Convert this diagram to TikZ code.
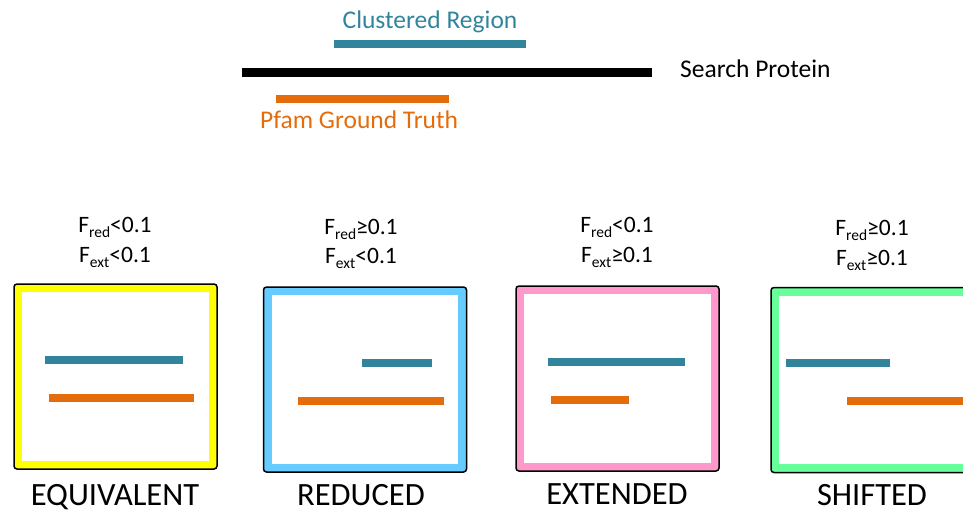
\documentclass[tikz,border=0pt]{standalone}
\usepackage{fontspec}
\setmainfont{Carlito}
\usetikzlibrary{calc}
\definecolor{tealc}{HTML}{31849B}
\definecolor{orngc}{HTML}{E46C0A}
\definecolor{byel}{HTML}{FFFF00}
\definecolor{bblue}{HTML}{66CCFF}
\definecolor{bpink}{HTML}{FF99CC}
\definecolor{bgreen}{HTML}{66FF99}
\newcommand{\lowsub}[1]{\raisebox{-0.45ex}{\fontsize{15.5}{16}\selectfont #1}}
\begin{document}
\begin{tikzpicture}[x=1pt,y=-1pt,
 frame/.style={draw=black, line width=1.5pt, rounded corners=3pt, minimum width=203pt, minimum height=185pt, inner sep=0pt},
 tbar/.style={tealc, line width=8pt},
 obar/.style={orngc, line width=8pt},
 kbar/.style={black, line width=9pt},
 toplab/.style={font=\fontsize{25.5}{30}\selectfont, anchor=base, inner sep=0pt},
 cond/.style={font=\fontsize{23.5}{28}\selectfont, anchor=base, inner sep=0pt},
 namelab/.style={font=\fontsize{32.5}{38}\selectfont, anchor=base, inner sep=0pt}]
\useasboundingbox (0,0) rectangle (963,513);
\clip (0,0) rectangle (963,513);
% top legend
\draw[tbar] (334,44) -- (526,44);
\draw[kbar] (242,73) -- (652,73);
\draw[obar] (276,99.5) -- (449,99.5);
\node[toplab, text=tealc] (lclu) at (430,29) {Clustered Region};
\node[toplab, anchor=base west] (lsp) at (680,78) {Search Protein};
\node[toplab, text=orngc] (lpf) at (359,129) {Pfam Ground Truth};
% boxes
\node[frame, fill=byel] (b1) at (115.5,376.5) {};
\node[frame, fill=bblue] (b2) at (365,379.5) {};
\node[frame, fill=bpink] (b3) at (617.5,378.5) {};
\node[frame, fill=bgreen] (b4) at (872.5,380) {};
\foreach \b in {b1,b2,b3,b4}{
  \fill[white] ($(\b.north west)+(9.2,9.2)$) rectangle ($(\b.south east)+(-9.2,-9.2)$);
}
% bars
\draw[tbar] (45,360) -- (183,360);
\draw[obar] (49,398) -- (194,398);
\draw[tbar] (362,363) -- (432,363);
\draw[obar] (298,401) -- (444,401);
\draw[tbar] (548,362) -- (685,362);
\draw[obar] (551,400) -- (629,400);
\draw[tbar] (786,363) -- (890,363);
\draw[obar] (847,401) -- (975,401);
% conditions
\node[cond] (c1r) at (115,232) {F\lowsub{red}<0.1};
\node[cond] (c1e) at (115,262) {F\lowsub{ext}<0.1};
\node[cond] (c2r) at (361,234) {F\lowsub{red}≥0.1};
\node[cond] (c2e) at (361,263) {F\lowsub{ext}<0.1};
\node[cond] (c3r) at (617,232) {F\lowsub{red}<0.1};
\node[cond] (c3e) at (617,262) {F\lowsub{ext}≥0.1};
\node[cond] (c4r) at (872,235) {F\lowsub{red}≥0.1};
\node[cond] (c4e) at (872,265) {F\lowsub{ext}≥0.1};
% names
\node[namelab] (n1) at (115,505) {EQUIVALENT};
\node[namelab] (n2) at (361,505) {REDUCED};
\node[namelab] (n3) at (617,504) {EXTENDED};
\node[namelab] (n4) at (872,505.5) {SHIFTED};
\end{tikzpicture}
\end{document}
